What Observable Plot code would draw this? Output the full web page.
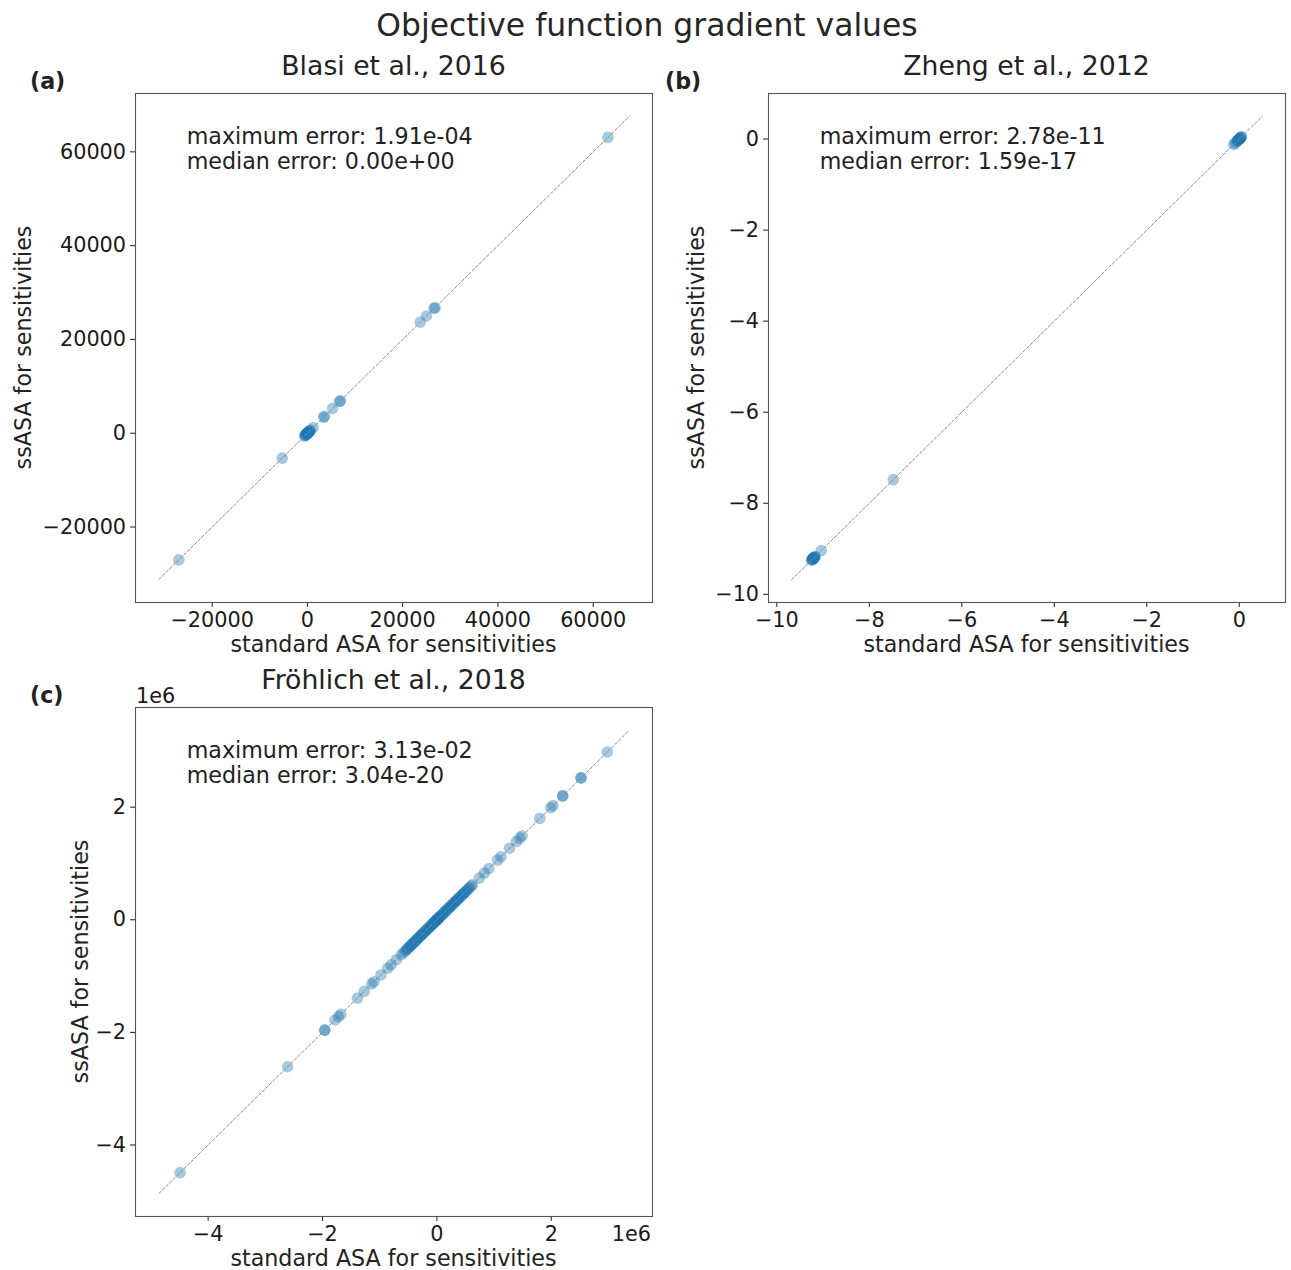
<!DOCTYPE html>
<html>
<head>
<meta charset="utf-8">
<script src="https://cdn.jsdelivr.net/npm/d3@7"></script>
<script src="https://cdn.jsdelivr.net/npm/@observablehq/plot@0.6"></script>
<style>
  body { margin: 0; background: #fff; }
  #fig { position: relative; width: 1291px; height: 1270px; overflow: hidden;
         font-family: "DejaVu Sans", sans-serif; color: #222; background: #fff; }
  .t { position: absolute; left: 0; top: 0; white-space: nowrap; line-height: 1; transform-origin: 0 0; }
  .p { position: absolute; }
  .p svg { overflow: visible; }
</style>
</head>
<body>
<div id="fig"></div>
<script>
// ---------------- data ----------------
// Both methods give the same gradient values (errors <= 3e-2), so each point lies on x = y.
const blasiGradients = [
  -27000, -5300,
  -600, -480, -400, -300, -220, -150, -80, -30, 0, 0, 40, 90, 160, 250, 330, 420, 520, 600,
  1200, 3400, 3600, 5300, 6800, 6900,
  23700, 25000, 26600, 26800, 63100
];
const zhengGradients = [
  -9.25, -9.24, -9.23, -9.22, -9.22, -9.21, -9.21, -9.20, -9.20, -9.19, -9.18, -9.17,
  -9.04, -7.48,
  -0.12, -0.09, -0.06, -0.04, -0.03, -0.02, -0.01, 0, 0, 0.01, 0.02, 0.03, 0.04, 0.05
];
// Fröhlich values in units of 1e6
const froehlichGradients = [
  -4.49, -2.61, -1.96, -1.96, -1.78, -1.72, -1.68, -1.39, -1.27, -1.14, -1.10, -0.98,
  -0.86, -0.80, -0.71, -0.62,
  -0.58, -0.55, -0.53, -0.51, -0.49, -0.47, -0.46, -0.44, -0.42, -0.41, -0.39, -0.37,
  -0.36, -0.34, -0.32, -0.31, -0.29, -0.27, -0.26, -0.24, -0.23, -0.21, -0.19, -0.18,
  -0.16, -0.15, -0.13, -0.12, -0.10, -0.09, -0.07, -0.06, -0.05, -0.04, -0.03, -0.02,
  -0.01, 0, 0, 0, 0.01, 0.02, 0.03, 0.04, 0.05, 0.06, 0.08, 0.09, 0.11, 0.12, 0.14,
  0.15, 0.17, 0.18, 0.20, 0.22, 0.23, 0.25, 0.27, 0.28, 0.30, 0.32, 0.33, 0.35, 0.37,
  0.38, 0.40, 0.42, 0.44, 0.45, 0.47, 0.49, 0.51, 0.53, 0.55, 0.57, 0.60, 0.62,
  0.74, 0.83, 0.91, 1.06, 1.12, 1.27, 1.39, 1.45, 1.49, 1.80, 1.99, 2.03,
  2.20, 2.20, 2.52, 2.52, 2.98
];

// identity-line extents
const blasiDiagonal = [-31200, 67700];
const zhengDiagonal = [-9.68, 0.50];
const froehlichDiagonal = [-4.86, 3.36];

// axis limits
const blasiDomain = [-36100, 72450];
const zhengDomain = [-10.18, 1.0];
const froehlichDomain = [-5.27, 3.77];

// tick values
const blasiTicks = [-20000, 0, 20000, 40000, 60000];
const zhengTicks = [-10, -8, -6, -4, -2, 0];
const froehlichTicks = [-4, -2, 0, 2];

// texts
const figTitle = "Objective function gradient values";
const panelTitles = ["Blasi et al., 2016", "Zheng et al., 2012", "Fröhlich et al., 2018"];
const panelLetters = ["(a)", "(b)", "(c)"];
const errorTexts = [
  ["maximum error: 1.91e-04", "median error: 0.00e+00"],
  ["maximum error: 2.78e-11", "median error: 1.59e-17"],
  ["maximum error: 3.13e-02", "median error: 3.04e-20"]
];
const xLabel = "standard ASA for sensitivities";
const yLabel = "ssASA for sensitivities";
const offsetText = "1e6";

// ---------------- drawing ----------------
const fig = document.getElementById("fig");
const fmt = d3.format("d");

function panel({values, diagonal, domain, ticks, left, top, marginLeft, marginRight}) {
  const pts = values.map(v => ({standard: v, ss: v}));
  const diag = diagonal.map(v => ({standard: v, ss: v}));
  const frameW = 517, frameH = 509;
  const chart = Plot.plot({
    width: marginLeft + frameW + marginRight,
    height: 93 + frameH + 40,
    marginLeft, marginRight, marginTop: 93, marginBottom: 40,
    style: {fontFamily: '"DejaVu Sans", sans-serif', fontSize: "20.8px", color: "#1a1a1a", background: "transparent"},
    x: {domain, ticks, tickFormat: fmt, tickSize: 4.9, tickPadding: 4.5, label: null},
    y: {domain, ticks, tickFormat: fmt, tickSize: 4.9, tickPadding: 4.5, label: null},
    marks: [
      Plot.dot(pts, {x: "standard", y: "ss", r: 5.8, fill: "#1f77b4", fillOpacity: 0.4}),
      Plot.line(diag, {x: "standard", y: "ss", stroke: "#8c8c8c", strokeWidth: 1, strokeDasharray: "3 2"}),
      Plot.frame({stroke: "#555", strokeWidth: 1.1})
    ]
  });
  const wrap = document.createElement("div");
  wrap.className = "p";
  wrap.style.left = left + "px";
  wrap.style.top = top + "px";
  wrap.appendChild(chart);
  fig.appendChild(wrap);
}

function text(str, x, baseline, size, {anchor = "start", bold = false, rotate = false, color = "#222"} = {}) {
  const d = document.createElement("div");
  d.className = "t";
  d.textContent = str;
  d.style.fontSize = size + "px";
  d.style.color = color;
  if (bold) d.style.fontWeight = "bold";
  const ax = anchor === "middle" ? "-50%" : anchor === "end" ? "-100%" : "0";
  d.style.transform = `translate(${x}px, ${baseline}px)` + (rotate ? " rotate(-90deg)" : "") + ` translate(${ax}, -0.846em)`;
  fig.appendChild(d);
}

panel({values: blasiGradients, diagonal: blasiDiagonal, domain: blasiDomain, ticks: blasiTicks,
       left: 0, top: 0, marginLeft: 135, marginRight: 10});
panel({values: zhengGradients, diagonal: zhengDiagonal, domain: zhengDomain, ticks: zhengTicks,
       left: 668, top: 0, marginLeft: 100, marginRight: 6});
panel({values: froehlichGradients, diagonal: froehlichDiagonal, domain: froehlichDomain, ticks: froehlichTicks,
       left: 0, top: 614, marginLeft: 135, marginRight: 10});

// figure title
text(figTitle, 647, 37, 31.4, {anchor: "middle", color: "#262626"});

// panel geometry: [frameLeft, frameTop, yLabelBaselineX]
const frames = [[135, 93, 31], [768, 93, 704], [135, 707, 88]];
frames.forEach(([fl, ft, yb], i) => {
  const cx = fl + 258.5;
  text(panelTitles[i], cx, ft - 17, 26.7, {anchor: "middle"});
  text(panelLetters[i], i === 1 ? 665 : 30, ft - 4, 22.2, {bold: true});
  text(errorTexts[i][0], fl + 51.7, ft + 50.3, 22.2);
  text(errorTexts[i][1], fl + 51.7, ft + 75.7, 22.2);
  text(xLabel, cx, ft + 559, 22.2, {anchor: "middle"});
  text(yLabel, yb, ft + 254.5, 22.2, {anchor: "middle", rotate: true});
});
// offset texts for panel (c)
text(offsetText, 136, 703.5, 20.8, {color: "#1a1a1a"});
text(offsetText, 651, 1241.5, 20.8, {anchor: "end", color: "#1a1a1a"});
</script>
</body>
</html>
